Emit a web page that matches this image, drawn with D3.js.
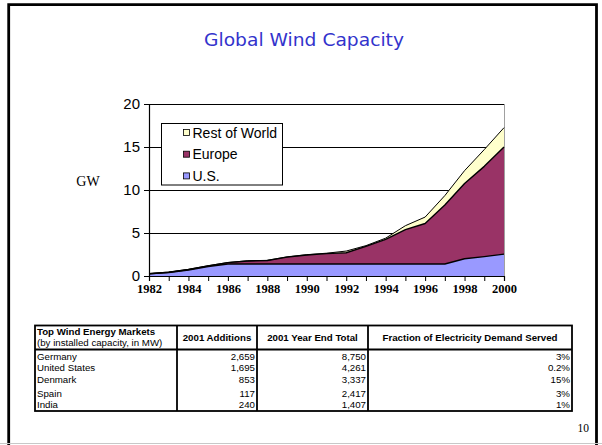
<!DOCTYPE html>
<html>
<head>
<meta charset="utf-8">
<script src="https://cdn.jsdelivr.net/npm/d3@7"></script>
<style>
  html, body { margin: 0; padding: 0; background: #ffffff; }
  svg { display: block; }
</style>
</head>
<body>
<svg id="slide" width="602" height="445"></svg>
<script>
// ---- Installed wind capacity, GW (cumulative, by region) ----
const years = [1982, 1983, 1984, 1985, 1986, 1987, 1988, 1989, 1990, 1991,
               1992, 1993, 1994, 1995, 1996, 1997, 1998, 1999, 2000];
const usGW = [0.25, 0.4, 0.7, 1.1, 1.4, 1.4, 1.4, 1.4, 1.4, 1.4,
              1.4, 1.4, 1.4, 1.4, 1.4, 1.4, 2.0, 2.25, 2.55];
const europeGW = [0.02, 0.03, 0.05, 0.08, 0.15, 0.35, 0.4, 0.8, 1.05, 1.2,
                  1.3, 2.05, 2.85, 4.0, 4.7, 6.85, 8.75, 10.5, 12.45];
const restGW = [0.02, 0.02, 0.02, 0.02, 0.02, 0.02, 0.02, 0.03, 0.03, 0.05,
                0.2, 0.08, 0.15, 0.45, 0.75, 1.1, 1.5, 1.95, 2.25];
const seriesNames = ["U.S.", "Europe", "Rest of World"];
const yTicks = [0, 5, 10, 15, 20];

// ---- Top wind energy markets, 2001 ----
const tableColumns = ["2001 Additions", "2001 Year End Total", "Fraction of Electricity Demand Served"];
const countries = ["Germany", "United States", "Denmark", "Spain", "India"];
const additions2001 = ["2,659", "1,695", "853", "117", "240"];
const yearEndTotal2001 = ["8,750", "4,261", "3,337", "2,417", "1,407"];
const demandShare = ["3%", "0.2%", "15%", "3%", "1%"];

const svg = d3.select("#slide");
const sans = "'Liberation Sans', Arial, sans-serif";
const serif = "'Liberation Serif', 'Times New Roman', serif";

// slide frame
svg.append("path")
  .attr("d", "M8.7,446 V4.7 H596.5 V446")
  .attr("fill", "none").attr("stroke", "#000").attr("stroke-width", 2.8);
svg.append("line")
  .attr("x1", 0).attr("x2", 602).attr("y1", 443.5).attr("y2", 443.5)
  .attr("stroke", "#c8c8c8").attr("stroke-width", 1);

// title
svg.append("text")
  .attr("x", 304).attr("y", 46)
  .attr("text-anchor", "middle")
  .attr("textLength", 200).attr("lengthAdjust", "spacingAndGlyphs")
  .style("font-family", "'DejaVu Sans', sans-serif")
  .style("font-size", "17px")
  .attr("fill", "#3333cc")
  .text("Global Wind Capacity");

// ---- stacked area chart ----
const plot = { left: 149, right: 504, top: 104, bottom: 276 };
const x = d3.scaleLinear().domain([years[0], years[years.length - 1]]).range([plot.left, plot.right]);
const y = d3.scaleLinear().domain([0, 20]).range([plot.bottom, plot.top]);

const rows = years.map((yr, i) => ({ year: yr, us: usGW[i], europe: europeGW[i], rest: restGW[i] }));
const keys = ["us", "europe", "rest"];
const colors = { us: "#9999ff", europe: "#993366", rest: "#ffffcc" };
const stacked = d3.stack().keys(keys)(rows);

const g = svg.append("g");

// gridlines
g.selectAll("line.grid").data(yTicks.filter(v => v > 0)).join("line")
  .attr("class", "grid")
  .attr("x1", plot.left).attr("x2", plot.right)
  .attr("y1", d => Math.round(y(d)) + 0.5).attr("y2", d => Math.round(y(d)) + 0.5)
  .attr("stroke", "#000").attr("stroke-width", 1);

// right edge of plot area
g.append("line")
  .attr("x1", plot.right + 0.5).attr("x2", plot.right + 0.5)
  .attr("y1", plot.top).attr("y2", plot.bottom)
  .attr("stroke", "#a0a0a0").attr("stroke-width", 1);

const area = d3.area()
  .x(d => x(d.data.year))
  .y0(d => y(d[0]))
  .y1(d => y(d[1]));
const topLine = d3.line()
  .x(d => x(d.data.year))
  .y(d => y(d[1]));

g.selectAll("path.layer").data(stacked).join("path")
  .attr("class", "layer")
  .attr("d", area)
  .attr("fill", d => colors[d.key])
  .attr("stroke", "none");

g.selectAll("path.edge").data(stacked).join("path")
  .attr("class", "edge")
  .attr("d", topLine)
  .attr("fill", "none")
  .attr("stroke", "#000")
  .attr("stroke-width", d => d.key === "rest" ? 1 : 1.4)
  .attr("stroke-linejoin", "round");

// axes
const yAxis = d3.axisLeft(y).tickValues(yTicks).tickSize(5).tickPadding(4);
const yG = svg.append("g").attr("transform", `translate(${plot.left},0)`).call(yAxis);
yG.select(".domain").attr("stroke", "#000").attr("stroke-width", 1.2);
yG.selectAll(".tick line").attr("stroke", "#000");
yG.selectAll(".tick text")
  .style("font-family", sans).style("font-size", "15px").attr("fill", "#000");

const xAxis = d3.axisBottom(x).tickValues(years).tickSize(5).tickPadding(3)
  .tickFormat(d => d % 2 === 0 ? String(d) : "");
const xG = svg.append("g").attr("transform", `translate(0,${plot.bottom})`).call(xAxis);
xG.select(".domain").attr("stroke", "#000").attr("stroke-width", 1.2);
xG.selectAll(".tick line").attr("stroke", "#000");
xG.selectAll(".tick text")
  .style("font-family", serif).style("font-size", "12.5px").style("font-weight", "bold")
  .attr("fill", "#000");

// unit label
svg.append("text")
  .attr("x", 88).attr("y", 186)
  .attr("text-anchor", "middle")
  .style("font-family", serif).style("font-size", "14px")
  .text("GW");

// legend
const legend = svg.append("g").attr("transform", "translate(161.5,123.5)");
legend.append("rect")
  .attr("width", 121).attr("height", 61.5)
  .attr("fill", "#fff").attr("stroke", "#000").attr("stroke-width", 1);
const legendOrder = ["rest", "europe", "us"];
legendOrder.forEach((k, i) => {
  const cy = 9 + i * 21.7;
  legend.append("rect")
    .attr("x", 22).attr("y", cy - 3)
    .attr("width", 6).attr("height", 6)
    .attr("fill", colors[k]).attr("stroke", "#000").attr("stroke-width", 0.8);
  legend.append("text")
    .attr("x", 31).attr("y", cy + 5)
    .style("font-family", sans).style("font-size", "14px")
    .text(seriesNames[keys.indexOf(k)]);
});

// ---- markets table ----
const tbl = { left: 35, right: 572, top: 325.5, head: 349.5, bottom: 411 };
const colEdges = [tbl.left, 177, 257, 368, tbl.right];
const rowCenters = [356, 367.5, 379, 393.5, 404];

const t = svg.append("g");
t.append("rect")
  .attr("x", tbl.left).attr("y", tbl.top)
  .attr("width", tbl.right - tbl.left).attr("height", tbl.bottom - tbl.top)
  .attr("fill", "none").attr("stroke", "#000").attr("stroke-width", 1.8);
t.append("line")
  .attr("x1", tbl.left).attr("x2", tbl.right)
  .attr("y1", tbl.head).attr("y2", tbl.head)
  .attr("stroke", "#000").attr("stroke-width", 1.8);
colEdges.slice(1, -1).forEach(cx => {
  t.append("line")
    .attr("x1", cx).attr("x2", cx)
    .attr("y1", tbl.top).attr("y2", tbl.bottom)
    .attr("stroke", "#000").attr("stroke-width", 1.8);
});

t.append("text")
  .attr("x", 37).attr("y", 334.5)
  .style("font-family", sans).style("font-size", "9.7px").style("font-weight", "bold")
  .text("Top Wind Energy Markets");
t.append("text")
  .attr("x", 37).attr("y", 345.5)
  .style("font-family", sans).style("font-size", "9.7px")
  .text("(by installed capacity, in MW)");

tableColumns.forEach((name, i) => {
  t.append("text")
    .attr("x", (colEdges[i + 1] + colEdges[i + 2]) / 2).attr("y", 341)
    .attr("text-anchor", "middle")
    .style("font-family", sans).style("font-size", "9.7px").style("font-weight", "bold")
    .text(name);
});

const columns = [countries, additions2001, yearEndTotal2001, demandShare];
columns.forEach((col, ci) => {
  col.forEach((val, ri) => {
    const txt = t.append("text")
      .attr("y", rowCenters[ri] + 3.5)
      .style("font-family", sans).style("font-size", "9.7px")
      .text(val);
    if (ci === 0) txt.attr("x", colEdges[0] + 2);
    else txt.attr("x", colEdges[ci + 1] - 2).attr("text-anchor", "end");
  });
});

// page number
svg.append("text")
  .attr("x", 589).attr("y", 432)
  .attr("text-anchor", "end")
  .style("font-family", serif).style("font-size", "11.5px")
  .text("10");
</script>
</body>
</html>
